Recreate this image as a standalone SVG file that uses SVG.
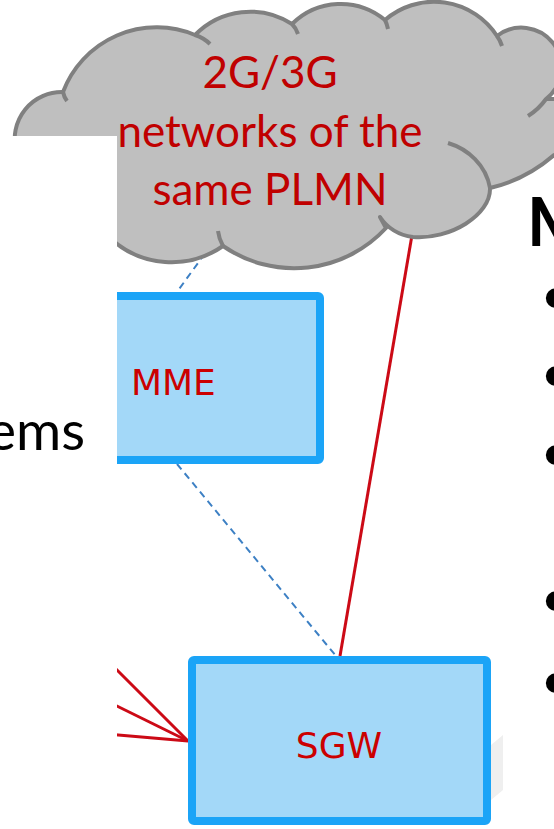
<svg xmlns="http://www.w3.org/2000/svg" width="554" height="829" viewBox="0 0 554 829">
<style>
.cl{fill:#bfbfbf;stroke:#808080;stroke-width:4;stroke-linejoin:round}
.hk{fill:none;stroke:#808080;stroke-width:4;stroke-linecap:butt}
.ct{font-family:Lato,"Open Sans",sans-serif;font-size:44px;fill:#c00000;text-anchor:middle}
.box{fill:#a3d8f8;stroke:#1ba4f7;stroke-width:8}
.bt{font-family:"DejaVu Sans",Verdana,sans-serif;font-size:36px;fill:#cc0000}
.dash{fill:none;stroke:#3d80c4;stroke-width:2;stroke-dasharray:7 5}
.red{fill:none;stroke:#cc0a16;stroke-width:3}
.sl{font-family:Lato,"Open Sans",sans-serif;fill:#000}
.bu{font-family:"Liberation Sans",Arial,sans-serif;font-size:72px;fill:#000}
</style>
<rect width="554" height="829" fill="#fff"/>
<g id="connectors-back">
  <line class="dash" x1="240" y1="205" x2="177" y2="292"/>
  <line class="red" x1="418" y1="200" x2="340" y2="656"/>
</g>
<g id="cloud">
  <path class="cl" d="M 20,200 L 16,150 A 47 47 0 0 1 63,92 A 100 100 0 0 1 195,35 A 77 77 0 0 1 292,24 A 69 69 0 0 1 385,20 A 75 75 0 0 1 497,36 A 39 39 0 0 1 546,99 L 600,99 L 600,158 L 554,155 A 150 150 0 0 1 490,188 C 491,215 450,240 413,237 C 398,235 388,229 380,217 L 386,228 A 125 125 0 0 1 223,246 A 90 90 0 0 1 110,238 Z"/>
  <path class="hk" d="M 63,92 Q 64,97 67,101 M 195,35 Q 204,38 210,44 M 292,24 Q 296,28 298,34 M 385,20 Q 387,24 388,29 M 497,36 Q 500,40 502,46 M 546,99 Q 539,109 528,116 M 448,143 C 468,149 486,165 490,188 M 223,246 Q 219,239 218,231"/>
  <text class="ct" x="270" y="88">2G/3G</text>
  <text class="ct" x="270" y="147">networks of the</text>
  <text class="ct" x="270" y="205">same PLMN</text>
</g>
<g id="connectors">
  <line class="dash" x1="177" y1="464" x2="336" y2="656"/>
  <line class="red" x1="60" y1="613" x2="188" y2="741"/>
  <line class="red" x1="60" y1="678" x2="188" y2="741"/>
  <line class="red" x1="60" y1="730" x2="188" y2="741"/>
</g>
<g id="mme">
  <rect class="box" x="90" y="296" width="230" height="164" rx="2"/>
  <text class="bt" x="131" y="395">MME</text>
</g>
<g id="sgw">
  <polygon points="491,745 503,735 503,790 491,800" fill="#efefef"/>
  <rect class="box" x="192" y="660" width="295" height="161" rx="2"/>
  <text class="bt" x="339" y="758" text-anchor="middle">SGW</text>
</g>
<rect x="0" y="136" width="117" height="693" fill="#fff"/>
<g id="slide-text">
  <text class="sl" x="85" y="450" font-size="55" text-anchor="end">ems</text>
  <text class="sl" x="527" y="246" font-size="66" font-weight="bold">M</text>
  <text class="bu" x="543" y="322">•</text>
  <text class="bu" x="543" y="400">•</text>
  <text class="bu" x="543" y="479">•</text>
  <text class="bu" x="543" y="625">•</text>
  <text class="bu" x="543" y="707">•</text>
</g>
</svg>
